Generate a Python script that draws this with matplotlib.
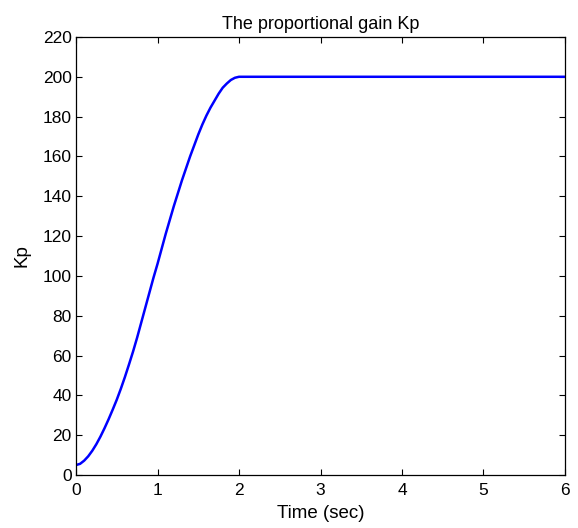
import matplotlib
matplotlib.use("Agg")
import matplotlib.pyplot as plt

# values
time_s = [0.00, 0.05, 0.10, 0.15, 0.20, 0.25, 0.30, 0.35, 0.40, 0.45,
          0.50, 0.55, 0.60, 0.65, 0.70, 0.75, 0.80, 0.85, 0.90, 0.95,
          1.00, 1.05, 1.10, 1.15, 1.20, 1.25, 1.30, 1.35, 1.40, 1.45,
          1.50, 1.55, 1.60, 1.65, 1.70, 1.75, 1.80, 1.85, 1.90, 1.95,
          2.00, 6.00]
kp = [5, 5.6, 7.2, 9.4, 12.2, 15.5, 19.3, 23.5, 28, 32.8,
      37.8, 43.3, 49.2, 55.5, 62, 69, 76.5, 84, 91.5, 99,
      106, 113.5, 121, 128, 135, 141.5, 148, 154, 160, 165.5,
      171, 176, 180.5, 184.5, 188, 191.5, 194.5, 196.6, 198.4, 199.5,
      200, 200]

x_ticks = [0, 1, 2, 3, 4, 5, 6]
y_ticks = list(range(0, 221, 20))

plt.rcParams["font.family"] = ["Liberation Sans", "DejaVu Sans"]

fig = plt.figure(figsize=(5.78, 5.28), dpi=100)
ax = fig.add_axes([0.1315, 0.1004, 0.846, 0.8296])

ax.plot(time_s, kp, color="#0000ff", linewidth=1.8)

ax.set_xlim(0, 6)
ax.set_ylim(0, 220)
ax.set_xticks(x_ticks)
ax.set_yticks(y_ticks)
ax.tick_params(direction="in", top=True, right=True, labelsize=12.5, length=4)
ax.tick_params(axis="x", pad=5.5)
ax.tick_params(axis="y", pad=3)
for s in ax.spines.values():
    s.set_linewidth(0.9)

ax.set_title("The proportional gain Kp", fontsize=13, pad=6)
ax.set_xlabel("Time (sec)", fontsize=13.5, labelpad=5)
ax.set_ylabel("Kp", fontsize=13.5, labelpad=9)

fig.savefig("out.png", dpi=100)
